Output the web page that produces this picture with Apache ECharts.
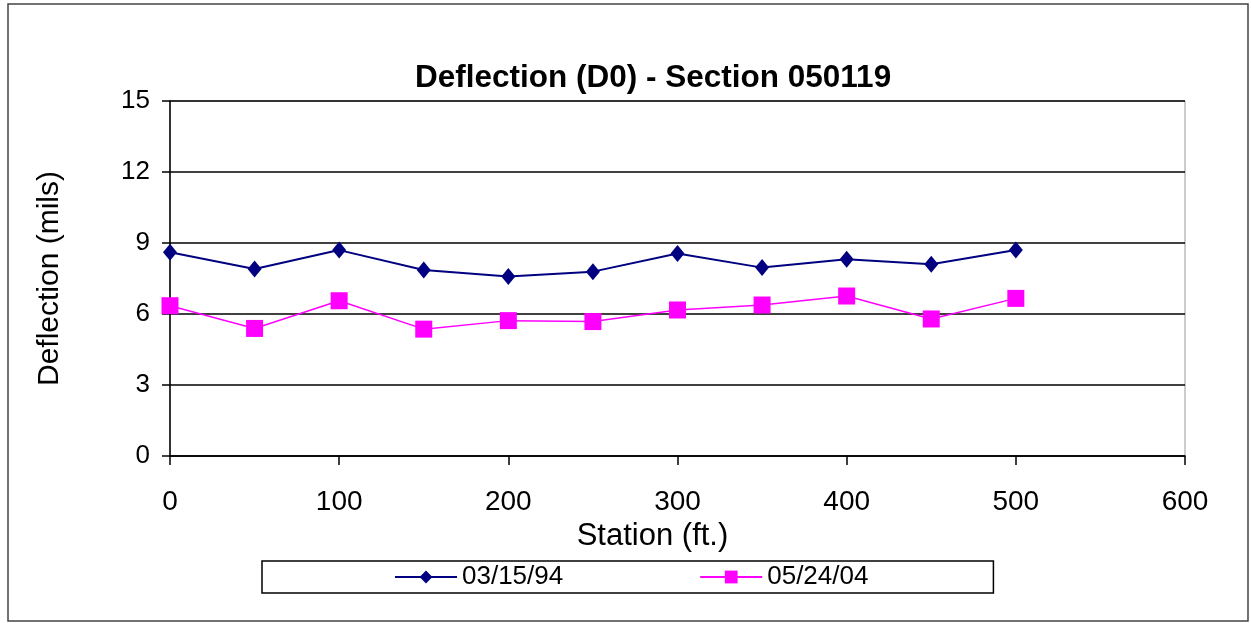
<!DOCTYPE html>
<html>
<head>
<meta charset="utf-8">
<script src="https://cdn.jsdelivr.net/npm/echarts@6/dist/echarts.min.js"></script>
<style>html,body{margin:0;padding:0;background:#fff;}#c{width:1251px;height:623px;}</style>
</head>
<body>
<div id="c"></div>
<script>
const stations = [0, 50, 100, 150, 200, 250, 300, 350, 400, 450, 500];
const d1994 = [8.61, 7.90, 8.70, 7.86, 7.58, 7.79, 8.56, 7.96, 8.31, 8.10, 8.70];
const d2004 = [6.35, 5.39, 6.56, 5.36, 5.72, 5.68, 6.17, 6.38, 6.76, 5.79, 6.66];
const seriesNames = ['03/15/94', '05/24/04'];
const titleText = 'Deflection (D0) - Section 050119';
const xName = 'Station (ft.)';
const yName = 'Deflection (mils)';

const FONT = 'Arial, "Liberation Sans", sans-serif';
const chart = echarts.init(document.getElementById('c'), null, {renderer: 'canvas'});
chart.setOption({
  animation: false,
  backgroundColor: '#fff',
  title: {
    text: titleText, left: 410, top: 57,
    textStyle: {fontFamily: FONT, fontWeight: 'bold', fontSize: 31.5, color: '#000'}
  },
  graphic: [{
    type: 'rect', shape: {x: 8, y: 4, width: 1240, height: 617},
    style: {fill: 'none', stroke: '#444', lineWidth: 1.5}, silent: true
  }],
  grid: {left: 170, right: 66, top: 101, bottom: 167, show: true, borderColor: '#999', borderWidth: 1},
  legend: {
    left: 262, top: 561,
    padding: [3, 125, 3, 132], itemGap: 136, itemWidth: 62, itemHeight: 16,
    borderColor: '#000', borderWidth: 1.5,
    textStyle: {fontFamily: FONT, fontSize: 26, color: '#000'},
    data: seriesNames
  },
  xAxis: {
    type: 'value', min: 0, max: 600, interval: 100,
    name: xName, nameLocation: 'middle', nameGap: 63,
    nameTextStyle: {fontFamily: FONT, fontSize: 31, color: '#000', padding: [0, 50, 0, 0]},
    axisLine: {show: true, lineStyle: {color: '#000', width: 1.5}},
    axisTick: {show: true, length: 9, lineStyle: {color: '#000', width: 1.5}},
    axisLabel: {fontFamily: FONT, fontSize: 28, color: '#000', margin: 32},
    splitLine: {show: false}
  },
  yAxis: {
    type: 'value', min: 0, max: 15, interval: 3,
    name: yName, nameLocation: 'middle', nameGap: 105,
    nameTextStyle: {fontFamily: FONT, fontSize: 30, color: '#000'},
    axisLine: {show: true, lineStyle: {color: '#000', width: 1.5}},
    axisTick: {show: true, length: 8, lineStyle: {color: '#000', width: 1.5}},
    axisLabel: {fontFamily: FONT, fontSize: 26, color: '#000', margin: 20},
    splitLine: {show: true, lineStyle: {color: '#000', width: 1.5}}
  },
  series: [
    {
      name: seriesNames[0], type: 'line',
      data: stations.map((s, i) => [s, d1994[i]]),
      symbol: 'diamond', symbolSize: [14, 17],
      lineStyle: {color: '#000080', width: 2},
      itemStyle: {color: '#000080'}
    },
    {
      name: seriesNames[1], type: 'line',
      data: stations.map((s, i) => [s, d2004[i]]),
      symbol: 'rect', symbolSize: 17,
      lineStyle: {color: '#FF00FF', width: 1.5},
      itemStyle: {color: '#FF00FF'}
    }
  ]
});
</script>
</body>
</html>
